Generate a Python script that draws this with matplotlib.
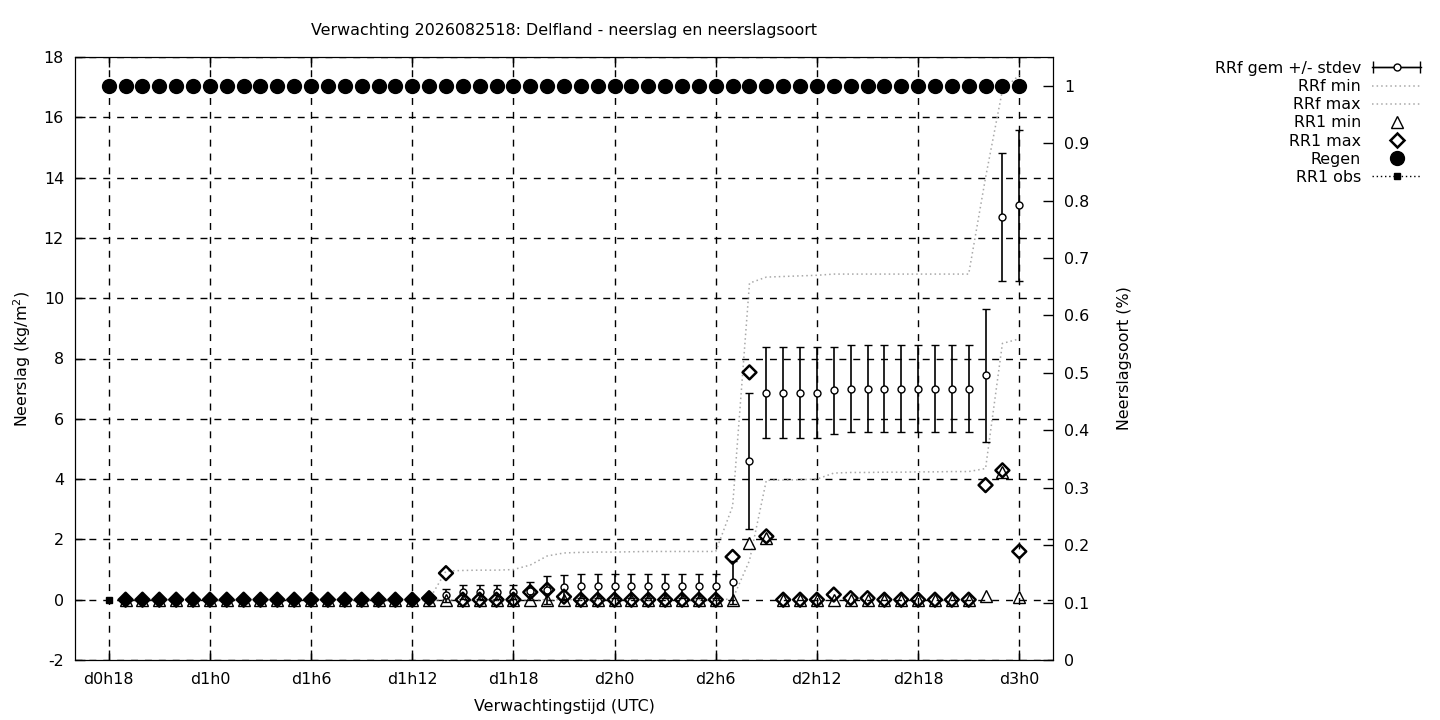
import numpy as np
import matplotlib
matplotlib.use("Agg")
import matplotlib.pyplot as plt
from matplotlib.lines import Line2D
from matplotlib.collections import LineCollection
from matplotlib.container import ErrorbarContainer
from matplotlib.legend_handler import HandlerErrorbar

# ===================== données =====================
titre = "Verwachting 2026082518: Delfland - neerslag en neerslagsoort"

# uren na d0h18
uren = list(range(0, 55))
uren_fc = list(range(1, 55))          # verwachting vanaf uur 1

tick_uren = [0, 6, 12, 18, 24, 30, 36, 42, 48, 54]
tick_labels = ["d0h18", "d1h0", "d1h6", "d1h12", "d1h18",
               "d2h0", "d2h6", "d2h12", "d2h18", "d3h0"]

rrf_gem = ([0.0] * 19
           + [0.15, 0.25, 0.25, 0.25, 0.25, 0.28, 0.32, 0.42]
           + [0.45] * 9
           + [0.58, 4.6, 6.87, 6.87, 6.87, 6.87, 6.95]
           + [7.0] * 8
           + [7.44, 12.7, 13.08])

rrf_std = ([0.0] * 19
           + [0.22, 0.23, 0.23, 0.23, 0.23, 0.3, 0.45, 0.4]
           + [0.4] * 9
           + [0.72, 2.25, 1.5, 1.5, 1.5, 1.5, 1.44]
           + [1.44] * 8
           + [2.2, 2.12, 2.5])

rrf_min = ([0.0] * 36
           + [0.02, 1.3, 3.96, 3.97, 3.98, 4.0, 4.2,
              4.22, 4.22, 4.23, 4.23, 4.24, 4.24, 4.25, 4.25,
              4.35, 8.5, 8.65])

rrf_max = ([0.0] * 19
           + [0.95, 0.97, 0.98, 0.98, 1.0, 1.15, 1.45, 1.55,
              1.57, 1.58, 1.58, 1.59, 1.6, 1.6, 1.6, 1.6, 1.6,
              3.1, 10.5, 10.7, 10.72, 10.74, 10.76, 10.8]
           + [10.8] * 8
           + [14.0, 16.9, 17.4])

rr1_min = ([0.0] * 37
           + [1.87, 2.05]
           + [0.0] * 12
           + [0.13, 4.25, 0.08])

rr1_max = ([0.0] * 18
           + [0.05, 0.88, 0.0, 0.0, 0.0, 0.0, 0.25, 0.33, 0.1]
           + [0.0] * 9
           + [1.42, 7.54, 2.1, 0.0, 0.0, 0.0, 0.17, 0.05, 0.05]
           + [0.0] * 6
           + [3.8, 4.29, 1.6])

regen = [1.0] * 55

obs_uren = [0]
rr1_obs = [0.0]
# ===================================================

plt.rcParams["font.family"] = "DejaVu Sans"
plt.rcParams["font.size"] = 11.4
plt.rcParams["axes.unicode_minus"] = False

fig = plt.figure(figsize=(14.4, 7.2), dpi=100)
ax = fig.add_axes([75 / 1440, 60 / 720, 978 / 1440, 603 / 720])
ax2 = ax.twinx()

ax.set_xlim(-2, 56)
ax.set_ylim(-2, 18)
ax2.set_ylim(0, 1.05)

ax.set_xticks(tick_uren)
ax.set_xticklabels(tick_labels)
ax.set_yticks(range(-2, 19, 2))
ax2.set_yticks([i / 10 for i in range(11)])
ax2.yaxis.set_major_formatter(matplotlib.ticker.FormatStrFormatter("%g"))

ax.tick_params(axis="both", direction="in", length=7, width=1, top=True, pad=8)
ax.tick_params(axis="x", pad=9)
ax2.tick_params(axis="y", direction="in", length=7, width=1, pad=8)

ax.grid(True, color="black", linestyle=(0, (5, 5)), linewidth=1)
ax.set_axisbelow(True)

# cumulatieve min/max (stippel, grijs)
ax.plot(uren_fc, rrf_min, color="#a8a8a8", linestyle=(0, (1, 2)), linewidth=1.1, zorder=2)
ax.plot(uren_fc, rrf_max, color="#a8a8a8", linestyle=(0, (1, 2)), linewidth=1.1, zorder=2)

# gemiddelde met stdev
ax.errorbar(uren_fc, rrf_gem, yerr=rrf_std, fmt="o", color="black", ms=5,
            mfc="white", mec="black", mew=1, elinewidth=1.2, capsize=3,
            capthick=1.2, zorder=3)

# RR1 min / max
ax.plot(uren_fc, rr1_min, linestyle="none", marker="^", ms=9, mfc="none",
        mec="black", mew=1, zorder=4)
vol = np.where(np.array(uren_fc) < 20, "black", "none")
ax.scatter(uren_fc, rr1_max, marker="D", s=50, facecolors=vol,
           edgecolors="black", linewidths=1.8, zorder=5)

# waarneming
ax.plot(obs_uren, rr1_obs, linestyle=(0, (1, 2)), color="black", marker="s",
        ms=5, zorder=6)

# neerslagsoort
ax2.plot(uren, regen, linestyle="none", marker="o", ms=10, color="black")

ax.set_title(titre, fontsize=11.4, pad=16)
ax.set_xlabel("Verwachtingstijd (UTC)", labelpad=8)
ax.set_ylabel("Neerslag (kg/m$^2$)", labelpad=8)
ax2.set_ylabel("Neerslagsoort (%)", labelpad=20)

# legenda
eb_lijn = Line2D([], [], color="black", marker="o", ms=5, mfc="white", lw=1)
eb_cap = Line2D([], [], color="black", marker="|", ms=8, lw=1)
eb_bar = LineCollection([], colors="black", linewidths=1)
eb_handle = ErrorbarContainer((eb_lijn, (eb_cap,), (eb_bar,)),
                              has_xerr=True, has_yerr=False)
handles = [
    eb_handle,
    Line2D([], [], color="#a8a8a8", linestyle=(0, (1, 2)), lw=1.1),
    Line2D([], [], color="#a8a8a8", linestyle=(0, (1, 2)), lw=1.1),
    Line2D([], [], linestyle="none", marker="^", ms=9, mfc="none", mec="black", mew=1),
    Line2D([], [], linestyle="none", marker="D", ms=7, mfc="none", mec="black", mew=1.8),
    Line2D([], [], linestyle="none", marker="o", ms=10, color="black"),
    Line2D([], [], linestyle=(0, (1, 2)), color="black", marker="s", ms=5, lw=1),
]
labels = ["RRf gem +/- stdev", "RRf min", "RRf max", "RR1 min", "RR1 max",
          "Regen", "RR1 obs"]
fig.legend(handles, labels, loc="upper right", bbox_to_anchor=(1429 / 1440, 1 - 53 / 720),
           frameon=False, markerfirst=False, handlelength=3.1, handletextpad=0.7,
           labelspacing=0.2, borderpad=0, fontsize=11.4,
           handler_map={ErrorbarContainer: HandlerErrorbar(xerr_size=1.5)})

fig.savefig("out.png", dpi=100)
